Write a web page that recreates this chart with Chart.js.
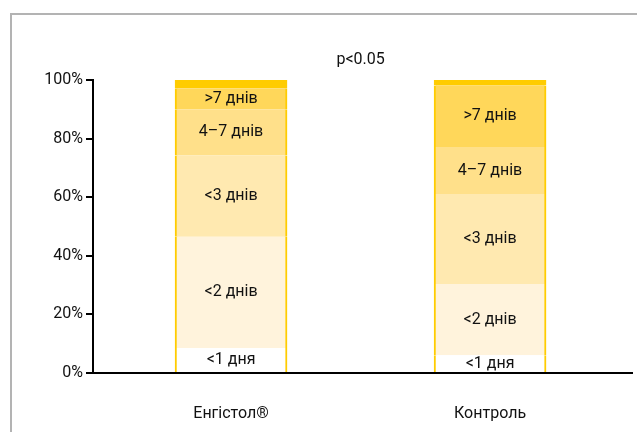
<!DOCTYPE html>
<html>
<head>
<meta charset="utf-8">
<script src="https://cdn.jsdelivr.net/npm/chart.js@4/dist/chart.umd.min.js"></script>
<style>
    html, body { margin: 0; padding: 0; background: #fff; }
    #wrap { position: relative; width: 637px; height: 432px; overflow: hidden; }
    #frame { position: absolute; left: 10px; top: 13px; width: 700px; height: 500px;
             border-top: 2px solid #b3b3b3; border-left: 2px solid #b3b3b3; }
    canvas { position: absolute; left: 0; top: 0; }
</style>
</head>
<body>
<div id="wrap">
    <div id="frame"></div>
    <canvas id="chart" width="637" height="432"></canvas>
</div>
<script>
// Categories (groups) and stacked segment values, in %
const categories = ['Енгістол®', 'Контроль'];
const segmentLabels = ['<1 дня', '<2 днів', '<3 днів', '4–7 днів', '>7 днів', ''];
const segmentColors = ['#ffffff', '#fff3dc', '#ffe9b0', '#ffe08a', '#ffd75a', '#ffcc00'];
const lessThan1 = [8.5, 6.1];
const lessThan2 = [38.0, 24.3];
const lessThan3 = [27.7, 30.7];
const from4to7 = [15.8, 16.0];
const moreThan7 = [7.2, 21.0];
const topRest = [2.8, 1.9];
const yTicks = [0, 20, 40, 60, 80, 100];
const pValue = 'p<0.05';

const seriesValues = [lessThan1, lessThan2, lessThan3, from4to7, moreThan7, topRest];
const fontFamily = 'Roboto, "Noto Sans", sans-serif';
const textColor = '#111';

// Draw segment labels and the p-value text
const labelPlugin = {
    id: 'segmentLabels',
    afterDatasetsDraw(chart) {
        const ctx = chart.ctx;
        ctx.save();
        ctx.fillStyle = textColor;
        ctx.font = '16px ' + fontFamily;
        ctx.textAlign = 'center';
        ctx.textBaseline = 'middle';
        chart.data.datasets.forEach((ds, i) => {
            if (!segmentLabels[i]) return;
            chart.getDatasetMeta(i).data.forEach(bar => {
                ctx.fillText(segmentLabels[i], bar.x, (bar.y + bar.base) / 2);
            });
        });
        const xs = chart.scales.x;
        ctx.fillText(pValue, xs.getPixelForValue(0.5), 60);
        ctx.restore();
    }
};

const ctx = document.getElementById('chart').getContext('2d');
new Chart(ctx, {
    type: 'bar',
    data: {
        datasets: seriesValues.map((vals, i) => ({
            label: segmentLabels[i],
            data: vals.map((v, j) => ({ x: j, y: v })),
            backgroundColor: segmentColors[i],
            borderColor: '#ffcc00',
            borderWidth: { left: 2, right: 2, top: 0, bottom: 0 },
            borderSkipped: false,
            barThickness: 112
        }))
    },
    options: {
        responsive: false,
        animation: false,
        layout: { padding: { top: 80, right: 5, left: 0, bottom: 0 } },
        plugins: {
            legend: { display: false },
            tooltip: { enabled: false }
        },
        scales: {
            x: {
                type: 'linear',
                stacked: true,
                offset: false,
                min: -0.533,
                max: 1.548,
                grid: { display: false },
                border: { color: '#000', width: 2 },
                ticks: {
                    stepSize: 1,
                    includeBounds: false,
                    autoSkip: false,
                    maxRotation: 0,
                    padding: 23,
                    color: textColor,
                    font: { family: fontFamily, size: 16 },
                    callback: (v) => categories[v] ?? ''
                },
                afterFit: (scale) => { scale.height = 59; }
            },
            y: {
                stacked: true,
                min: 0,
                max: 100,
                afterBuildTicks: (scale) => { scale.ticks = yTicks.map(v => ({ value: v })); },
                grid: { drawOnChartArea: false, drawTicks: true, tickLength: 7, color: '#000', lineWidth: 2 },
                border: { color: '#000', width: 2 },
                ticks: {
                    padding: 3,
                    color: textColor,
                    font: { family: fontFamily, size: 16 },
                    callback: (v) => v + '%'
                },
                afterFit: (scale) => { scale.width = 93; }
            }
        }
    },
    plugins: [labelPlugin]
});
</script>
</body>
</html>
